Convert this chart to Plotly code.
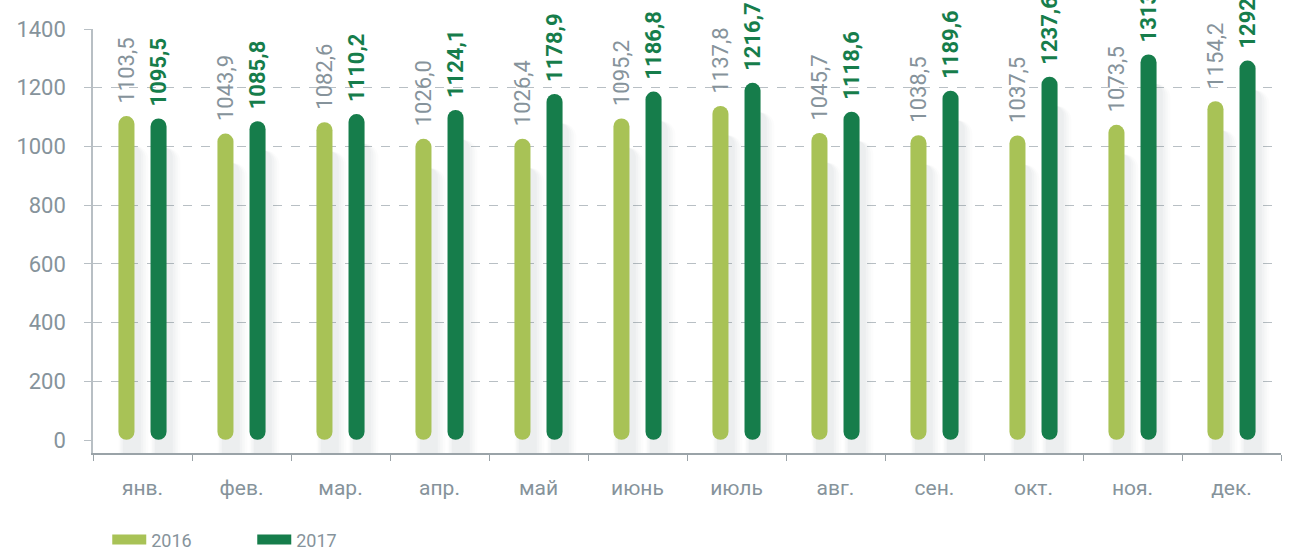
import plotly.graph_objects as go

months = ["янв.", "фев.", "мар.", "апр.", "май", "июнь", "июль", "авг.", "сен.", "окт.", "ноя.", "дек."]
vals_2016 = [1103.5, 1043.9, 1082.6, 1026.0, 1026.4, 1095.2, 1137.8, 1045.7, 1038.5, 1037.5, 1073.5, 1154.2]
vals_2017 = [1095.5, 1085.8, 1110.2, 1124.1, 1178.9, 1186.8, 1216.7, 1118.6, 1189.6, 1237.6, 1313.5, 1292.4]
labels_2016 = ["1103,5", "1043,9", "1082,6", "1026,0", "1026,4", "1095,2", "1137,8", "1045,7", "1038,5", "1037,5", "1073,5", "1154,2"]
labels_2017 = ["1095,5", "1085,8", "1110,2", "1124,1", "1178,9", "1186,8", "1216,7", "1118,6", "1189,6", "1237,6", "1313,5", "1292,4"]
y_ticks = [0, 200, 400, 600, 800, 1000, 1200, 1400]

C16 = "#a8c256"
C17 = "#167d4b"
GRAY = "#86939b"
FONT = "Roboto, sans-serif"

W = 0.162       # bar width in category units
OFF16 = -0.162 - W / 2
OFF17 = 0.162 - W / 2
BASE = 1

fig = go.Figure()

# soft shadows (several faint layers)
for wid, dx, alpha in [(0.30, 0.07, 0.025), (0.26, 0.065, 0.03), (0.22, 0.06, 0.035), (0.18, 0.055, 0.04)]:
    for vals, off in [(vals_2016, OFF16), (vals_2017, OFF17)]:
        fig.add_trace(go.Bar(
            x=months, y=[v - 20 for v in vals], base=[-80] * len(vals),
            width=wid, offset=off + dx + (W - wid) / 2,
            marker=dict(color=f"rgba(110,120,130,{alpha})", line=dict(width=0), cornerradius=14),
            showlegend=False, hoverinfo="skip"))

for vals, off, col, name in [(vals_2016, OFF16, C16, "2016"), (vals_2017, OFF17, C17, "2017")]:
    fig.add_trace(go.Bar(
        x=months, y=[v - BASE for v in vals], base=[BASE] * len(vals),
        width=W, offset=off,
        marker=dict(color=col, line=dict(width=0), cornerradius=8),
        showlegend=False, name=name))

# legend entries
for col, name in [(C16, "2016"), (C17, "2017")]:
    fig.add_trace(go.Scatter(x=[None], y=[None], mode="lines", name=name,
                             line=dict(color=col, width=13)))

annotations = []
for m, v, t in zip(months, vals_2016, labels_2016):
    annotations.append(dict(x=m, y=v, text=t, xshift=-16, yshift=10, showarrow=False,
                            textangle=-90, xanchor="center", yanchor="bottom",
                            font=dict(family=FONT, size=22, color=GRAY)))
for m, v, t in zip(months, vals_2017, labels_2017):
    annotations.append(dict(x=m, y=v, text="<b>" + t + "</b>", xshift=16, yshift=10, showarrow=False,
                            textangle=-90, xanchor="center", yanchor="bottom",
                            font=dict(family=FONT, size=22, color=C17)))

fig.update_layout(
    width=1294, height=552,
    margin=dict(l=93, r=13, t=29, b=99, autoexpand=False),
    plot_bgcolor="white", paper_bgcolor="white",
    barmode="overlay",
    font=dict(family=FONT, color=GRAY),
    annotations=annotations,
    legend=dict(orientation="h", x=0.012, xanchor="left", yref="container", y=0.022, yanchor="middle",
                font=dict(family=FONT, size=18, color=GRAY), itemwidth=34,
                entrywidth=96, bgcolor="rgba(0,0,0,0)"),
    xaxis=dict(type="category", categoryorder="array", categoryarray=months,
               range=[-0.5, 11.5], automargin=False,
               showline=True, linecolor="#9aa3a8", linewidth=1.5,
               ticks="outside", tickson="boundaries", ticklen=6, tickcolor="#9aa3a8",
               tickfont=dict(family=FONT, size=21, color=GRAY),
               ticklabelstandoff=15, showgrid=False),
    yaxis=dict(range=[-44, 1400], tickvals=y_ticks, automargin=False,
               showline=True, linecolor="#b8bfc4", linewidth=1.5,
               ticks="outside", ticklen=7, tickcolor="#b8bfc4",
               showgrid=True, gridcolor="#b8bfc4", griddash="dash", gridwidth=1,
               zeroline=True, zerolinecolor="white", zerolinewidth=2,
               tickfont=dict(family=FONT, size=22, color=GRAY),
               ticklabelstandoff=14),
)

fig.write_html("out.html")
